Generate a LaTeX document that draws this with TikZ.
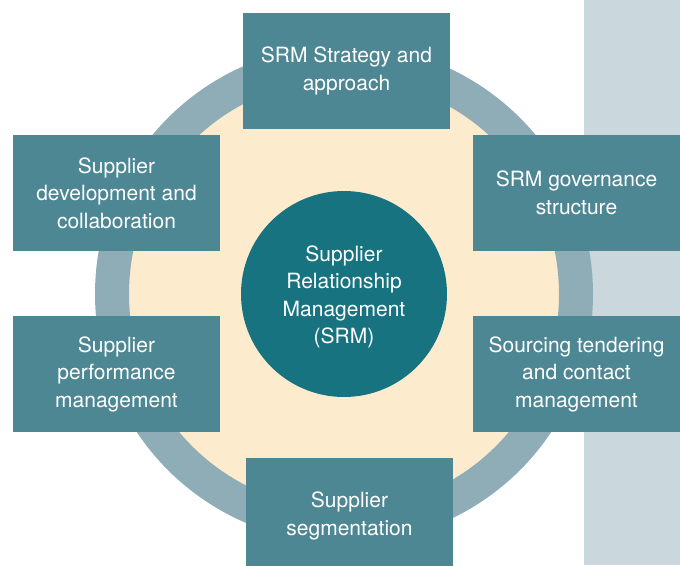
\documentclass[tikz,border=0pt]{standalone}
\usepackage{fontspec}
\setmainfont{TeX Gyre Heros}
\usepackage{tikz}
\usepackage{tkz-euclide}

\definecolor{caixa}{RGB}{77,135,148}
\definecolor{centro}{RGB}{23,115,127}
\definecolor{anel}{RGB}{143,173,182}
\definecolor{creme}{RGB}{253,235,206}
\definecolor{faixa}{RGB}{202,215,221}

\tikzset{
  bloco/.style={rectangle, fill=caixa, text=white, minimum width=207pt, minimum height=116pt,
    align=center, inner sep=0pt, font=\fontsize{21}{27.5}\selectfont},
  nucleo/.style={circle, fill=centro, text=white, minimum size=206pt, align=center,
    inner sep=0pt, font=\fontsize{21}{27.5}\selectfont}
}

\begin{document}
\begin{tikzpicture}[x=1pt,y=1pt] %unidades em pontos para seguir a figura

%O comando \tkzDefPoints define os centros dos blocos e do anel (x/y/NomedoPonto)
\tkzDefPoints{
344/271/O,
346.5/494/T,
116.5/372/SE,
576.5/372/SD,
116.5/191/IE,
576.5/191/ID,
349.5/49/B}

\clip (0,0) rectangle (680,565);

%Faixa cinza na margem direita
%---------------------------------------------------
\fill[faixa] (584,0) rectangle (680,565);
%---------------------------------------------------

%Anel em volta do centro, com o interior creme
%---------------------------------------------------
\draw[anel, fill=creme, line width=34pt] (O) circle (232);
%---------------------------------------------------

%Circulo central (texto um pouco abaixo do centro)
%---------------------------------------------------
\node[nucleo] (srm) at (O) {};
\node[text=white, align=center, font=\fontsize{21}{27.5}\selectfont] (srmtexto) at ([yshift=-3pt]srm.center) {Supplier\\Relationship\\Management\\(SRM)};
%---------------------------------------------------

%Os seis blocos em volta do anel
%---------------------------------------------------
\node[bloco] (estrategia) at (T) {SRM Strategy and\\approach};
\node[bloco] (governanca) at (SD) {SRM governance\\structure};
\node[bloco] (sourcing) at (ID) {Sourcing tendering\\and contact\\management};
\node[bloco] (segmentacao) at (B) {Supplier\\segmentation};
\node[bloco] (desempenho) at (IE) {Supplier\\performance\\management};
\node[bloco] (desenvolvimento) at (SE) {Supplier\\development and\\collaboration};
%---------------------------------------------------

\end{tikzpicture}
\end{document}
